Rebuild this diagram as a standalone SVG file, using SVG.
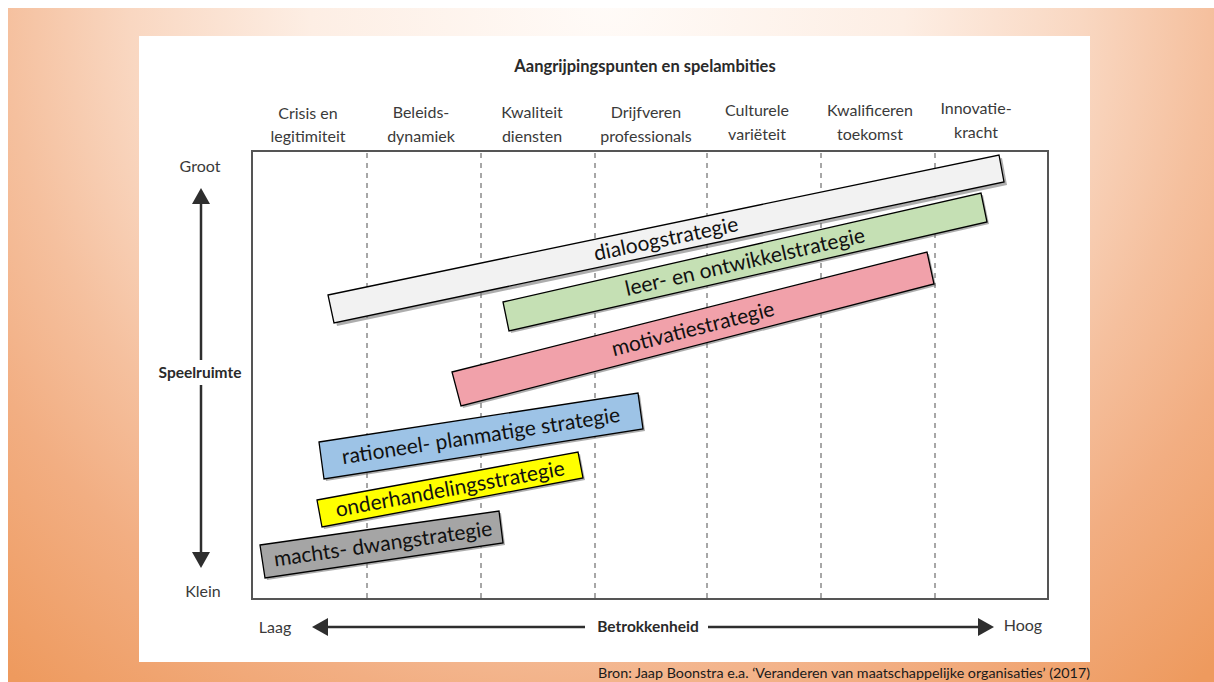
<svg xmlns="http://www.w3.org/2000/svg" width="1214" height="682" viewBox="0 0 1214 682">
  <defs>
    <radialGradient id="bg" gradientUnits="userSpaceOnUse" cx="607" cy="0" r="900">
      <stop offset="0" stop-color="#FFFBF8"/>
      <stop offset="0.33" stop-color="#FDEEE4"/>
      <stop offset="0.53" stop-color="#F9D7C1"/>
      <stop offset="0.67" stop-color="#F5C09E"/>
      <stop offset="0.8" stop-color="#F2AE82"/>
      <stop offset="1" stop-color="#EE9A5E"/>
    </radialGradient>
    <marker id="ah" viewBox="0 0 16 18" refX="0" refY="9" markerWidth="16" markerHeight="18" markerUnits="userSpaceOnUse" orient="auto">
      <path d="M0,0 L16,9 L0,18 z" fill="#2e2e2e"/>
    </marker>
    <style>
      .hdr{font-family:Lato,"Liberation Sans",sans-serif;font-size:16px;fill:#3a3a3a;text-anchor:middle}
      .bold{font-family:Lato,"Liberation Sans",sans-serif;font-size:15.5px;font-weight:bold;fill:#2a2a2a}
      .ax{font-family:Lato,"Liberation Sans",sans-serif;font-size:16px;fill:#3a3a3a}
      .dash{stroke:#8a8a8a;stroke-width:1.5;stroke-dasharray:5 5}
      .bar{stroke:#000;stroke-width:1.3;stroke-linejoin:miter}
      .shadow{fill:#6a6a6a;opacity:0.55}
      .lbl{font-family:Lato,"Liberation Sans",sans-serif;font-size:21px;fill:#111;text-anchor:middle}
      .axis{stroke:#2e2e2e;stroke-width:2.5;fill:none}
    </style>
  </defs>

  <rect x="0" y="0" width="1214" height="682" fill="#FFFFFF"/>
  <rect x="8" y="8" width="1206" height="674" fill="url(#bg)"/>
  <rect x="139" y="36" width="951" height="626" fill="#FFFFFF"/>

  <text x="645" y="72" class="bold" text-anchor="middle" style="font-size:16.5px">Aangrijpingspunten en spelambities</text>

  <g id="headers">
    <text class="hdr" x="308" y="119">Crisis en</text>
    <text class="hdr" x="308" y="142">legitimiteit</text>
    <text class="hdr" x="421" y="118">Beleids-</text>
    <text class="hdr" x="421" y="142">dynamiek</text>
    <text class="hdr" x="532" y="118">Kwaliteit</text>
    <text class="hdr" x="532" y="142">diensten</text>
    <text class="hdr" x="646" y="118">Drijfveren</text>
    <text class="hdr" x="646" y="142">professionals</text>
    <text class="hdr" x="757" y="116">Culturele</text>
    <text class="hdr" x="757" y="140">variëteit</text>
    <text class="hdr" x="870" y="116">Kwalificeren</text>
    <text class="hdr" x="870" y="140">toekomst</text>
    <text class="hdr" x="976" y="114">Innovatie-</text>
    <text class="hdr" x="976" y="138">kracht</text>
  </g>

  <g id="grid">
    <rect x="252" y="151" width="796" height="448" fill="none" stroke="#555" stroke-width="2"/>
    <line class="dash" x1="367" y1="153" x2="367" y2="598"/>
    <line class="dash" x1="481" y1="153" x2="481" y2="598"/>
    <line class="dash" x1="595" y1="153" x2="595" y2="598"/>
    <line class="dash" x1="707" y1="153" x2="707" y2="598"/>
    <line class="dash" x1="821" y1="153" x2="821" y2="598"/>
    <line class="dash" x1="935" y1="153" x2="935" y2="598"/>
  </g>

  <g id="connectors">
    <line class="axis" x1="201" y1="360" x2="201" y2="204" marker-end="url(#ah)"/>
    <line class="axis" x1="201" y1="385" x2="201" y2="552" marker-end="url(#ah)"/>
    <line class="axis" x1="585" y1="627" x2="328" y2="627" marker-end="url(#ah)"/>
    <line class="axis" x1="708" y1="627" x2="978" y2="627" marker-end="url(#ah)"/>
  </g>

  <g id="axis-labels">
    <text class="ax" x="200" y="172" text-anchor="middle">Groot</text>
    <text class="bold" x="200" y="378" text-anchor="middle">Speelruimte</text>
    <text class="ax" x="203" y="597" text-anchor="middle">Klein</text>
    <text class="ax" x="275" y="633" text-anchor="middle">Laag</text>
    <text class="bold" x="648" y="632" text-anchor="middle">Betrokkenheid</text>
    <text class="ax" x="1023" y="631" text-anchor="middle">Hoog</text>
  </g>

  <g id="dialoogstrategie">
    <polygon class="shadow" points="331,298 1002,158 1007,185 337,326"/>
    <polygon class="bar" fill="#F2F2F2" points="328,295 999,155 1004,182 334,323"/>
    <text class="lbl" x="666" y="246" transform="rotate(-11.8 666 239)">dialoogstrategie</text>
  </g>

  <g id="leer-en-ontwikkelstrategie">
    <polygon class="shadow" points="505,304 983,195 989,224 511,333"/>
    <polygon class="bar" fill="#C5E0B4" points="503,302 981,193 987,222 509,331"/>
    <text class="lbl" x="745" y="269" transform="rotate(-12.8 745 262)">leer- en ontwikkelstrategie</text>
  </g>

  <g id="motivatiestrategie">
    <polygon class="shadow" points="454,374 929,254 936,286 463,408"/>
    <polygon class="bar" fill="#F1A1AA" points="452,372 927,252 934,284 461,406"/>
    <text class="lbl" x="693" y="336" transform="rotate(-14.2 693 329)">motivatiestrategie</text>
  </g>

  <g id="rationeel-planmatige-strategie">
    <polygon class="shadow" points="321,444 640,395 645,431 326,481"/>
    <polygon class="bar" fill="#9DC3E6" points="319,442 638,393 643,429 324,479"/>
    <text class="lbl" x="481" y="443" transform="rotate(-8.7 481 436)">rationeel- planmatige strategie</text>
  </g>

  <g id="onderhandelingsstrategie">
    <polygon class="shadow" points="319,502 580,454 585,480 324,529"/>
    <polygon class="bar" fill="#FFFF00" points="317,500 578,452 583,478 322,527"/>
    <text class="lbl" x="450" y="496" transform="rotate(-10.4 450 489)">onderhandelingsstrategie</text>
  </g>

  <g id="machts-dwangstrategie">
    <polygon class="shadow" points="262,547 501,513 505,545 267,580"/>
    <polygon class="bar" fill="#A5A5A5" points="260,545 499,511 503,543 265,578"/>
    <text class="lbl" x="383" y="551" transform="rotate(-8.1 383 544)">machts- dwangstrategie</text>
  </g>

  <text x="1090" y="678" text-anchor="end" font-family="Lato, 'Liberation Sans', sans-serif" font-size="14.3" fill="#1a1a1a">Bron: Jaap Boonstra e.a. ‘Veranderen van maatschappelijke organisaties’ (2017)</text>
</svg>
